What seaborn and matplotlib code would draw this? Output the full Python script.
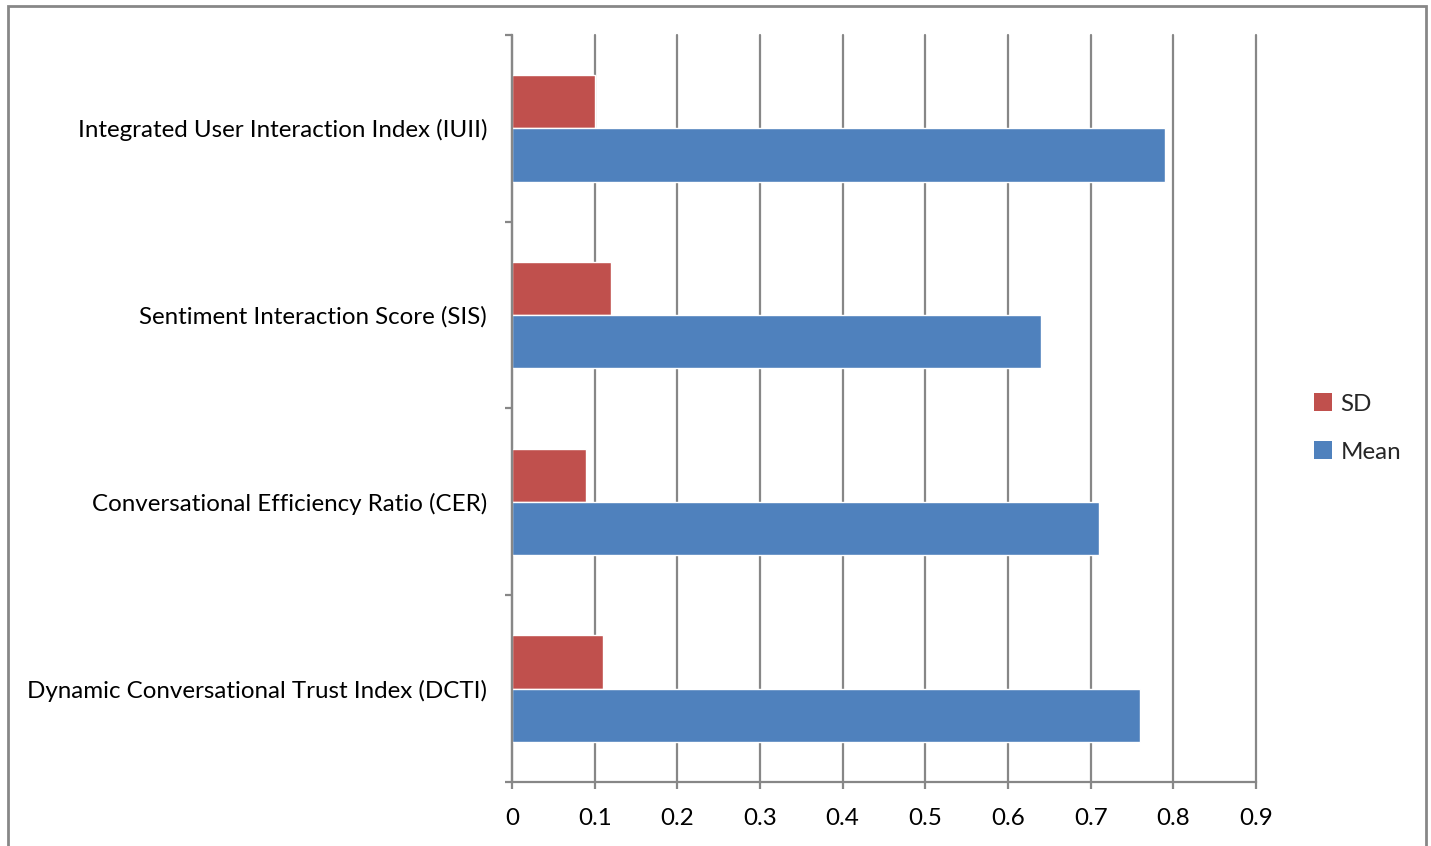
import matplotlib
matplotlib.use("Agg")
import matplotlib.pyplot as plt
from matplotlib.patches import Rectangle, Patch
import seaborn as sns
import pandas as pd

# Metrics and their summary statistics
metrics = [
    "Integrated User Interaction Index (IUII)",
    "Sentiment Interaction Score (SIS)",
    "Conversational Efficiency Ratio (CER)",
    "Dynamic Conversational Trust Index (DCTI)",
]
mean_values = [0.79, 0.64, 0.71, 0.76]
sd_values = [0.10, 0.12, 0.09, 0.11]
series_names = ["SD", "Mean"]
x_ticks = [0, 0.1, 0.2, 0.3, 0.4, 0.5, 0.6, 0.7, 0.8, 0.9]
x_tick_labels = ["0", "0.1", "0.2", "0.3", "0.4", "0.5", "0.6", "0.7", "0.8", "0.9"]

palette = {"SD": "#C0504D", "Mean": "#4F81BD"}
grid_grey = "#878787"
font_size = 17.4

df = pd.DataFrame({
    "metric": metrics * 2,
    "series": ["SD"] * len(metrics) + ["Mean"] * len(metrics),
    "value": sd_values + mean_values,
})

sns.set_theme(style="white")
plt.rcParams["font.family"] = ["Lato", "DejaVu Sans"]

fig = plt.figure(figsize=(14.31, 8.46), dpi=100)
ax = fig.add_axes([512 / 1431, 1 - 782 / 846, (1256 - 512) / 1431, (782 - 35) / 846])

sns.barplot(
    data=df, y="metric", x="value", hue="series",
    order=metrics, hue_order=series_names, palette=palette,
    orient="h", width=0.57, saturation=1, ax=ax, legend=False,
)

ax.set_xlim(0, 0.9)
ax.set_ylim(len(metrics) - 0.5, -0.5)
ax.set_xticks(x_ticks)
ax.set_xticklabels(x_tick_labels)
ax.set_xlabel("")
ax.set_ylabel("")

# Vertical gridlines behind the bars
ax.set_axisbelow(True)
ax.grid(axis="x", color=grid_grey, linewidth=1.6)
ax.grid(axis="y", visible=False)
for line in ax.get_xgridlines():
    line.set_clip_on(False)

for side in ["top", "right"]:
    ax.spines[side].set_visible(False)
for side in ["left", "bottom"]:
    ax.spines[side].set_color(grid_grey)
    ax.spines[side].set_linewidth(1.6)

# Category boundary ticks on the value axis side
ax.set_yticks([i - 0.5 for i in range(len(metrics) + 1)], minor=True)
ax.tick_params(axis="y", which="minor", left=True, length=5, width=1.6, color=grid_grey)
ax.tick_params(axis="y", which="major", left=False, length=0, pad=18,
               labelsize=font_size, labelcolor="black")
ax.tick_params(axis="x", which="major", bottom=True, length=5, width=1.6, color=grid_grey,
               pad=14, labelsize=font_size, labelcolor="black")

# Legend on the right
handles = [Patch(facecolor=palette[s], edgecolor="none") for s in series_names]
fig.legend(handles, series_names, loc="center left", bbox_to_anchor=(1292 / 1431, 1 - 428 / 846),
           frameon=False, fontsize=font_size, handlelength=0.75, handleheight=0.75,
           handletextpad=0.35, labelspacing=1.1)

# Outer chart frame
fig.patches.append(Rectangle((8 / 1431, -0.05), (1426 - 8) / 1431, 1.05 - 6 / 846,
                             transform=fig.transFigure, fill=False,
                             edgecolor=grid_grey, linewidth=2))

fig.savefig("out.png", dpi=100)
